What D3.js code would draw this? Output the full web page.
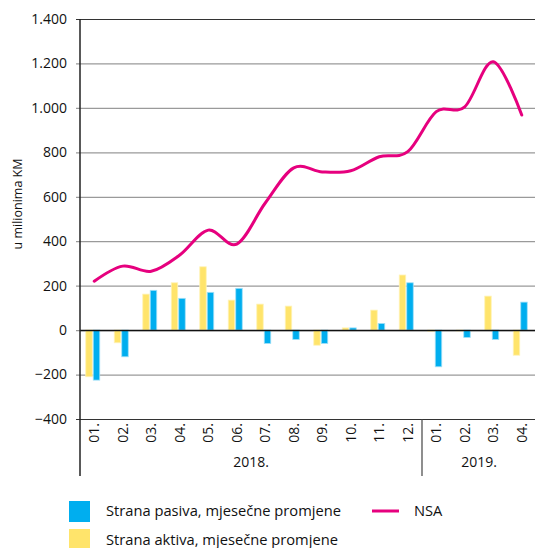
<!DOCTYPE html>
<html>
<head>
<meta charset="utf-8">
<script src="https://cdn.jsdelivr.net/npm/d3@7"></script>
<style>
  body { margin: 0; background: #fff; }
  svg { font-family: "Open Sans", sans-serif; }
</style>
</head>
<body>
<div class="chart"></div>
<script>
var width = 535, height = 548;

// data
var months = ["01.", "02.", "03.", "04.", "05.", "06.", "07.", "08.", "09.", "10.", "11.", "12.", "01.", "02.", "03.", "04."];
var years = [{label: "2018.", from: 0, to: 12}, {label: "2019.", from: 12, to: 16}];
var aktiva = [-210, -57, 162, 213, 285, 135, 117, 108, -68, 10, 90, 248, -5, -4, 153, -113];
var pasiva = [-225, -120, 179, 143, 170, 188, -60, -42, -60, 10, 30, 213, -165, -33, -42, 126];
var nsa = [220, 288, 265, 338, 450, 387, 572, 730, 712, 717, 780, 803, 983, 1005, 1208, 968];
var yTicks = [-400, -200, 0, 200, 400, 600, 800, 1000, 1200, 1400];

var colBlue = "#00aeef", colYellow = "#ffe46b", colPink = "#e6007e";

var svg = d3.select(".chart").append("svg")
  .attr("width", width)
  .attr("height", height);

var pLeft = 80, pRight = 536, pTop = 19, pBottom = 419;
var fs = 14;

var x = d3.scaleBand()
  .domain(d3.range(months.length))
  .range([pLeft, pRight]);

var y = d3.scaleLinear()
  .domain([-400, 1400])
  .range([pBottom, pTop]);

var fmt = function (d) { return d3.format(",")(d).replace(/,/g, "."); };

// gridlines
svg.append("g").selectAll("line")
  .data(yTicks)
  .enter().append("line")
  .attr("x1", pLeft - 4).attr("x2", pRight)
  .attr("y1", function (d) { return y(d) + 0.5 })
  .attr("y2", function (d) { return y(d) + 0.5 })
  .attr("stroke", function (d) { return (d == 1400 || d == -400) ? "#333" : "#9a9a9a" })
  .attr("stroke-width", 1.2);

// y labels
svg.append("g").selectAll("text")
  .data(yTicks)
  .enter().append("text")
  .attr("x", 67)
  .attr("y", function (d) { return y(d) })
  .attr("dy", "0.35em")
  .attr("text-anchor", "end")
  .attr("font-size", fs)
  .attr("fill", "#111")
  .text(fmt);

svg.append("text")
  .attr("transform", "translate(18," + 204 + ") rotate(-90)")
  .attr("text-anchor", "middle")
  .attr("dy", "0.35em")
  .attr("font-size", 12.5)
  .attr("fill", "#111")
  .text("u milionima KM");

// bars
var bw = 6.5;
svg.append("g").selectAll("rect")
  .data(aktiva)
  .enter().append("rect")
  .attr("x", function (d, i) { return x(i) + x.bandwidth() / 2 - 8.5 })
  .attr("width", bw)
  .attr("y", function (d) { return y(Math.max(0, d)) })
  .attr("height", function (d) { return Math.abs(y(d) - y(0)) })
  .attr("fill", colYellow)
  .attr("stroke", "#fff3b8").attr("stroke-width", 0.8);

svg.append("g").selectAll("rect")
  .data(pasiva)
  .enter().append("rect")
  .attr("x", function (d, i) { return x(i) + x.bandwidth() / 2 - 1 })
  .attr("width", bw)
  .attr("y", function (d) { return y(Math.max(0, d)) })
  .attr("height", function (d) { return Math.abs(y(d) - y(0)) })
  .attr("fill", colBlue)
  .attr("stroke", "#9fdff7").attr("stroke-width", 0.8);

// zero line
svg.append("line")
  .attr("x1", pLeft).attr("x2", pRight)
  .attr("y1", y(0) + 0.5).attr("y2", y(0) + 0.5)
  .attr("stroke", "#111").attr("stroke-width", 1.5);

// axes lines
svg.append("line")
  .attr("x1", pLeft).attr("x2", pLeft)
  .attr("y1", pTop).attr("y2", 476)
  .attr("stroke", "#222").attr("stroke-width", 1.5);
svg.append("line")
  .attr("x1", x(12)).attr("x2", x(12))
  .attr("y1", pBottom).attr("y2", 476)
  .attr("stroke", "#444").attr("stroke-width", 1.2);

// month labels
svg.append("g").selectAll("text")
  .data(months)
  .enter().append("text")
  .attr("transform", function (d, i) { return "translate(" + (x(i) + x.bandwidth() / 2) + ",433) rotate(-90)" })
  .attr("text-anchor", "middle")
  .attr("dy", "0.35em")
  .attr("font-size", fs)
  .attr("fill", "#111")
  .text(function (d) { return d });

svg.append("g").selectAll("text")
  .data(years)
  .enter().append("text")
  .attr("x", function (d) { return (x(d.from) + x(d.to - 1) + x.bandwidth()) / 2 })
  .attr("y", 462)
  .attr("dy", "0.35em")
  .attr("text-anchor", "middle")
  .attr("font-size", fs)
  .attr("fill", "#111")
  .text(function (d) { return d.label });

// NSA line
var line = d3.line()
  .x(function (d, i) { return x(i) + x.bandwidth() / 2 })
  .y(function (d) { return y(d) })
  .curve(d3.curveCardinal.tension(0));

svg.append("path")
  .datum(nsa)
  .attr("d", line)
  .attr("fill", "none")
  .attr("stroke", colPink)
  .attr("stroke-width", 3)
  .attr("stroke-linecap", "round");

// legend
var lg = svg.append("g").attr("font-size", 14.7).attr("fill", "#111");
lg.append("rect").attr("x", 69).attr("y", 501).attr("width", 21).attr("height", 21).attr("fill", colBlue);
lg.append("rect").attr("x", 69).attr("y", 529).attr("width", 21).attr("height", 21).attr("fill", colYellow);
lg.append("text").attr("x", 106).attr("y", 511).attr("dy", "0.35em").text("Strana pasiva, mjesečne promjene");
lg.append("text").attr("x", 106).attr("y", 540).attr("dy", "0.35em").text("Strana aktiva, mjesečne promjene");
lg.append("line").attr("x1", 372).attr("x2", 399).attr("y1", 511).attr("y2", 511)
  .attr("stroke", colPink).attr("stroke-width", 3);
lg.append("text").attr("x", 414).attr("y", 511).attr("dy", "0.35em").text("NSA");
</script>
</body>
</html>
